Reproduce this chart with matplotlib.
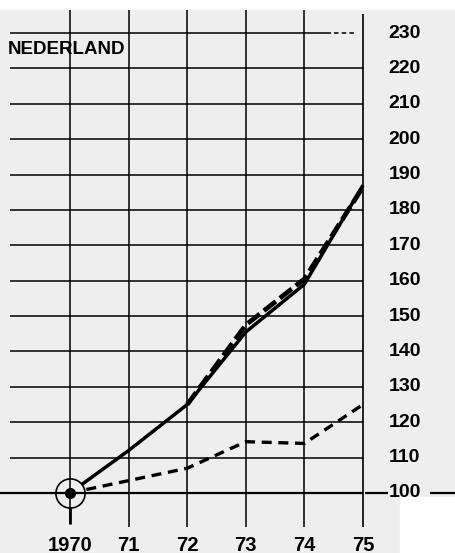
import numpy as np
import matplotlib.pyplot as plt
from matplotlib.patches import Rectangle

plt.rcParams['font.family'] = ['Liberation Sans', 'DejaVu Sans']

# data (index, 1970 = 100)
years = [1970, 1971, 1972, 1973, 1974, 1975]
year_labels = ['1970', '71', '72', '73', '74', '75']
index_ticks = [100, 110, 120, 130, 140, 150, 160, 170, 180, 190, 200, 210, 220, 230]

solid = [100, 112, 125, 145.5, 159, 187]
long_dash = [np.nan, np.nan, 125, 147.5, 160.5, 186.5]
short_dash = [100, 103.5, 107, 114.5, 114, 125]

fig = plt.figure(figsize=(4.56, 5.53), dpi=100)
ax = fig.add_axes([0, 0, 1, 1])
ax.set_xlim(1968.805, 1976.587)
ax.set_ylim(83.04, 239.33)
ax.axis('off')

grey = '#eeeeee'
ax.add_patch(Rectangle((0, 0), 1, 543 / 553, transform=ax.transAxes, color=grey, zorder=0))
ax.add_patch(Rectangle((400 / 456, 0), 56 / 456, 56 / 553, transform=ax.transAxes,
                       color='white', zorder=0))

# grid
for v in index_ticks[1:-1]:
    ax.hlines(v, 1968.98, years[-1], color='black', lw=1.1, zorder=1)
ax.hlines(230, 1968.98, 1974.45, color='black', lw=1.1, zorder=1)
ax.hlines(230, 1974.5, 1974.85, color='black', lw=1.1, linestyles=(0, (3, 2)), zorder=1)
ax.hlines(100, 1968.805, years[-1], color='black', lw=1.6, zorder=5)
ax.hlines(100, 1975.03, 1975.43, color='black', lw=1.6, zorder=5)
ax.hlines(100, 1976.14, 1976.587, color='black', lw=1.6, zorder=5)

for y in years[1:-1]:
    ax.vlines(y, 90.4, 236.5, color='black', lw=1.1, zorder=1)
ax.vlines(years[0], 91.3, 236.5, color='black', lw=1.1, zorder=5)
ax.vlines(years[0], 91.3, 96, color='black', lw=2, zorder=5)
ax.vlines(years[-1], 90.4, 235.4, color='black', lw=1.2, zorder=1)

# series
ax.plot(years, solid, color='black', lw=2.5, solid_capstyle='butt', zorder=3)
ax.plot(years, long_dash, color='black', lw=3.4, dashes=(3.2, 1.1), zorder=3)
ax.plot(years, short_dash, color='black', lw=2.4, dashes=(3, 2), zorder=3)

# base point
ax.plot(years[0], 100, 'o', ms=21, mfc=grey, mec='black', mew=1.2, zorder=4)
ax.plot(years[0], 100, 'o', ms=7, color='black', zorder=6)

# labels
for v in index_ticks:
    ax.text(1975.71, v, str(v), ha='center', va='center', fontsize=14, fontweight='bold')
for y, lab in zip(years, year_labels):
    ax.text(y, 85.3, lab, ha='center', va='center', fontsize=14.5, fontweight='bold')

ax.text(1968.94, 225.2, 'NEDERLAND', ha='left', va='center', fontsize=13.5, fontweight='bold')

fig.savefig('out.png', dpi=100)
